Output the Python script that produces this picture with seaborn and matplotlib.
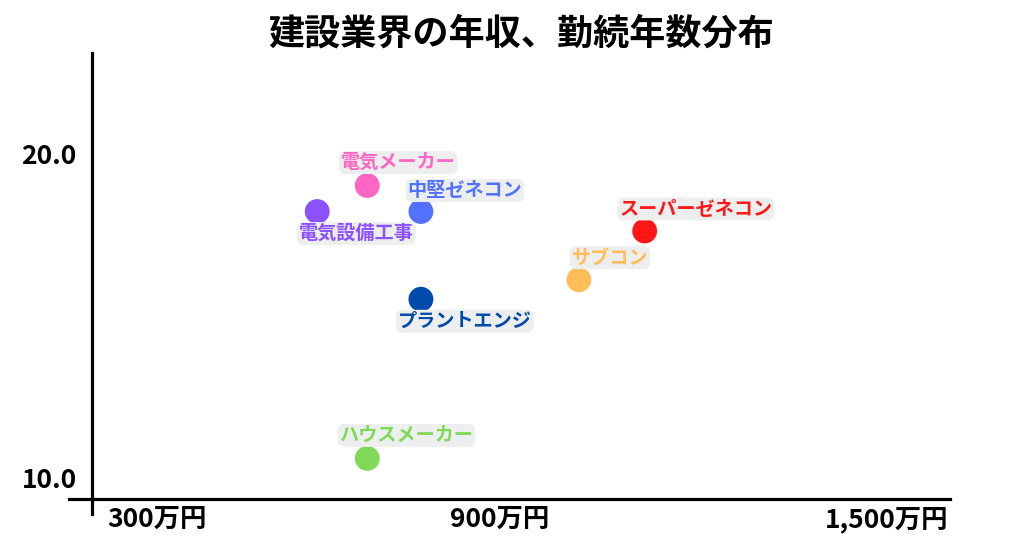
import matplotlib
matplotlib.use('Agg')
import matplotlib.pyplot as plt
import matplotlib.transforms as mtransforms
import seaborn as sns
import pandas as pd

# ---- data ----
categories = ['電気メーカー', '中堅ゼネコン', '電気設備工事', 'スーパーゼネコン',
              'サブコン', 'プラントエンジ', 'ハウスメーカー']
salary = [685, 760, 615, 1073, 981, 760, 685]          # 万円
tenure = [19.0, 18.2, 18.2, 17.6, 16.1, 15.5, 10.6]    # 年
colors = ['#FF66C4', '#5271FF', '#8C52FF', '#FF1616', '#FFBD59', '#004AAD', '#7ED957']
x_ticks = [300, 900, 1500]
x_tick_labels = ['300万円', '900万円', '1,500万円']
y_ticks = [10, 20]
y_tick_labels = ['10.0', '20.0']
title = '建設業界の年収、勤続年数分布'

# label offsets in pixels (dx, dy up)
label_offsets = [(31, 23), (44, 21), (39, -22), (51, 22), (31, 22), (44, -22), (39, 23)]

sns.set_theme(style='white')
plt.rcParams['font.family'] = ['Noto Sans CJK JP', 'DejaVu Sans']

W, H = 1024, 538
fig = plt.figure(figsize=(W / 100, H / 100), dpi=100)
ax = fig.add_axes([92 / W, 1 - 499 / H, (950 - 92) / W, (499 - 53) / H])

df = pd.DataFrame({'category': categories, 'salary': salary, 'tenure': tenure})
sns.scatterplot(data=df, x='salary', y='tenure', hue='category',
                palette=dict(zip(categories, colors)), s=320,
                edgecolor='none', legend=False, ax=ax, zorder=3, clip_on=False)

ax.set_xlim(300, 1500)
ax.set_ylim(9.35, 23.08)

for cat, xv, yv, col, off in zip(categories, salary, tenure, colors, label_offsets):
    ax.annotate(cat, (xv, yv), xytext=off, textcoords='offset pixels',
                ha='center', va='center', fontsize=13.8, fontweight='bold', color=col,
                bbox=dict(boxstyle='round,pad=0.1,rounding_size=0.35',
                          fc='#EDEFEF', ec='none'), zorder=4)

ax.set_xlabel('')
ax.set_ylabel('')
ax.set_xticks(x_ticks)
ax.set_xticklabels(x_tick_labels)
ax.set_yticks(y_ticks)
ax.set_yticklabels(y_tick_labels)
ax.tick_params(axis='both', length=0, labelsize=19, colors='black')
ax.tick_params(axis='x', pad=5)
ax.tick_params(axis='y', pad=11)
for lab in ax.get_xticklabels() + ax.get_yticklabels():
    lab.set_fontweight('bold')

# per-label horizontal adjustment of x tick labels
shifts = [(15, 'left'), (-21, 'center'), (-2, 'right')]
for lab, (dx, ha) in zip(ax.get_xticklabels(), shifts):
    lab.set_ha(ha)
    lab.set_transform(lab.get_transform() +
                      mtransforms.ScaledTranslation(dx / 100, 0, fig.dpi_scale_trans))

for s in ['top', 'right']:
    ax.spines[s].set_visible(False)
for s in ['left', 'bottom']:
    ax.spines[s].set_color('black')
    ax.spines[s].set_linewidth(2.3)
ax.spines['left'].set_bounds(9.35 - 15 / 32.5, 23.08)
ax.spines['bottom'].set_bounds(300 - 23 / 0.715, 1500)

fig.text(521 / W, 1 - 34 / H, title, ha='center', va='center',
         fontsize=26, fontweight='bold', color='black')

fig.savefig('out.png', dpi=100, facecolor='white')
